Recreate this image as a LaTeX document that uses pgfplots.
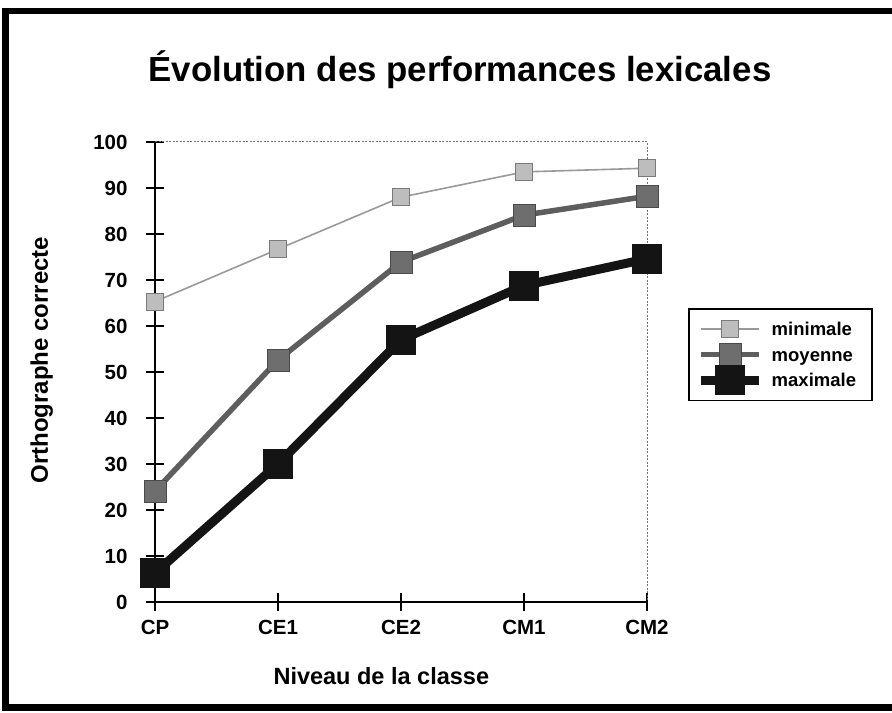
\documentclass[border=0pt]{standalone}
\usepackage{fontspec}
\setmainfont{Liberation Sans}
\usepackage{pgfplots}
\pgfplotsset{compat=1.18}
\definecolor{cminl}{HTML}{999999}
\definecolor{cminf}{HTML}{BDBDBD}
\definecolor{cmind}{HTML}{7A7A7A}
\definecolor{cmoyl}{HTML}{5E5E5E}
\definecolor{cmoyf}{HTML}{6E6E6E}
\definecolor{cmoyd}{HTML}{4A4A4A}
\definecolor{cmax}{HTML}{141414}
\pgfplotsset{myleg/.style={legend image code/.code={%
    \draw[##1, mark=none] (0bp,0bp) -- (58bp,0bp);
    \draw[##1, overlay] plot coordinates {(29bp,0bp)};}}}
\begin{document}
\begin{tikzpicture}[x=1bp,y=1bp]
\path[use as bounding box] (0,0) rectangle (892,713);
% frame
\fill[black] (2,3) rectangle (9,705);
\fill[black] (2,699) rectangle (892,705);
\fill[black] (2,2) rectangle (892,9);
\node[font=\fontsize{34.8bp}{40bp}\selectfont\bfseries, anchor=base] at (460,631) {Évolution des performances lexicales};
\begin{axis}[
  at={(155bp,111bp)}, anchor=south west,
  scale only axis, width=492bp, height=460bp,
  xmin=0, xmax=4, ymin=0, ymax=100,
  xtick={0,1,2,3,4}, xticklabels={CP,CE1,CE2,CM1,CM2},
  ytick={0,10,...,100},
  axis x line*=bottom, axis y line*=left,
  x axis line style={-, line width=2.6bp},
  y axis line style={-, line width=2.6bp},
  tick align=center, major tick length=18bp,
  every tick/.style={black, line width=2.4bp},
  /pgf/number format/assume math mode=true,
  ticklabel style={font=\fontsize{20.5bp}{23bp}\selectfont\bfseries},
  yticklabel style={xshift=-15bp},
  xticklabel style={yshift=-6bp},
  xlabel={Niveau de la classe},
  ylabel={Orthographe correcte},
  xlabel style={font=\fontsize{23.5bp}{27bp}\selectfont\bfseries, at={(axis description cs:0.46,-0.161)}, anchor=center},
  ylabel style={font=\fontsize{24bp}{27bp}\selectfont\bfseries, at={(axis description cs:-0.23,0.526)}, anchor=center},
  clip=false,
  legend style={at={(1.083,0.639)}, anchor=north west, draw=black, line width=1.8bp,
     inner xsep=8bp, inner ysep=10bp, row sep=5bp, column sep=6bp,
     nodes={inner sep=2bp},
     font=\fontsize{18.5bp}{21bp}\selectfont\bfseries},
  legend cell align=left,
]
\draw[black!55, dash pattern=on 2bp off 1.5bp, line width=1bp] (rel axis cs:0,1) -- (rel axis cs:1,1) -- (rel axis cs:1,0);
\addplot[cminl, line width=1.6bp, mark=square*, mark size=8.5bp,
  mark options={fill=cminf, draw=cmind, line width=0.7bp}, myleg]
  coordinates {(0,65.3) (1,76.7) (2,88.0) (3,93.5) (4,94.3)};
\addlegendentry{\makebox[90bp][l]{\rule[-5bp]{0pt}{20bp}minimale}}
\addplot[cmoyl, line width=5.5bp, mark=square*, mark size=11bp,
  mark options={fill=cmoyf, draw=cmoyd, line width=0.7bp}, myleg]
  coordinates {(0,24.1) (1,52.6) (2,73.9) (3,84.1) (4,88.2)};
\addlegendentry{\makebox[90bp][l]{\rule[-5bp]{0pt}{20bp}moyenne}}
\addplot[cmax, line width=9bp, mark=square*, mark size=14.5bp,
  mark options={fill=cmax, draw=cmax, line width=0.6bp}, myleg]
  coordinates {(0,6.3) (1,30.0) (2,57.0) (3,68.8) (4,74.6)};
\addlegendentry{\makebox[90bp][l]{\rule[-5bp]{0pt}{20bp}maximale}}
\end{axis}
\end{tikzpicture}
\end{document}
